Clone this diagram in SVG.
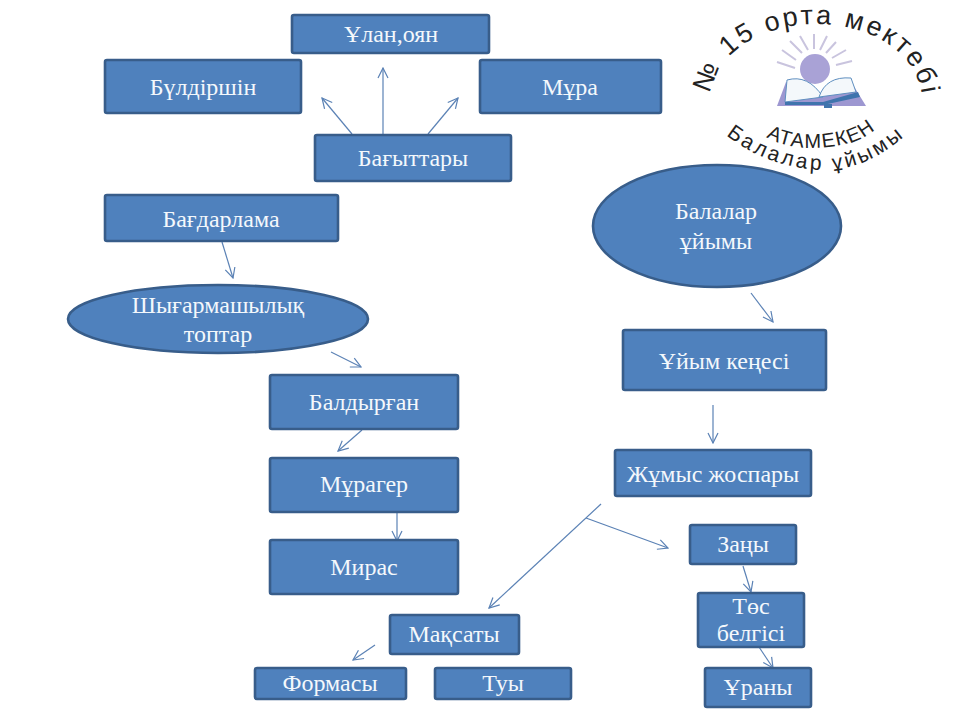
<svg xmlns="http://www.w3.org/2000/svg" width="960" height="720" viewBox="0 0 960 720">
<style>
.b{fill:#4f81bd;stroke:#385d8a;stroke-width:2.6}
.t{font-family:"Liberation Serif","Noto Sans",serif;font-size:24px;fill:#f4f8fc;text-anchor:middle}
.c{fill:none;stroke:#5b82b5;stroke-width:1.2;marker-end:url(#a)}
.l{font-family:"Liberation Sans",sans-serif;fill:#222}
</style>
<defs>
<marker id="a" viewBox="0 0 12 12" refX="11" refY="6" markerWidth="12" markerHeight="12" markerUnits="userSpaceOnUse" orient="auto"><path d="M1 1L11 6L1 11" fill="none" stroke="#5b82b5" stroke-width="1.2"/></marker>
<path id="p1" d="M711 94C716 48 770 24 815 24C865 24 916 48 922 96L924 130"/>
<path id="p2" d="M766 137C790 150 820 151 853 142C870 136 882 125 892 112"/>
<path id="p3" d="M726 135C755 158 790 169 823 170C860 170 890 152 920 122"/>
</defs>
<rect width="960" height="720" fill="#fff"/>
<g id="logo">
<text class="l" font-size="27" letter-spacing="2.7"><textPath href="#p1">№ 15 орта мектебі</textPath></text>
<text class="l" font-size="20" letter-spacing="1.2"><textPath href="#p2">АТАМЕКЕН</textPath></text>
<text class="l" font-size="21" letter-spacing="3"><textPath href="#p3">Балалар ұйымы</textPath></text>
<g fill="none" stroke="#c9c4de" stroke-width="2"><path d="M795 68L777 62M796 60L782 50M802 53L790 41M808 50L800 36M814 49L814 34M820 50L827 36M826 53L836 42M832 58L846 50M836 65L852 61"/></g>
<circle cx="815" cy="69" r="15" fill="#a9a2d6"/>
<path d="M786 82L777 106H866L850 80L820 96Z" fill="#9d97d1"/>
<path d="M787 80Q808 74 823 97L785 102Z" fill="#f4f8fb" stroke="#5f8fc0"/>
<path d="M819 97Q826 76 851 78L856 92Z" fill="#f4f8fb" stroke="#5f8fc0"/>
<path d="M785 102H823L858 92L860 97L823 105H785Z" fill="#3f74ad"/>
<rect x="824" y="104" width="8" height="4" fill="#3f74ad"/>
</g>
<g id="connectors">
<path class="c" d="M352 134L322 98"/>
<path class="c" d="M383 134V68"/>
<path class="c" d="M428 134L458 98"/>
<path class="c" d="M222 242L233 278"/>
<path class="c" d="M331 352L361 367"/>
<path class="c" d="M362 430L338 451"/>
<path class="c" d="M397 512V541"/>
<path class="c" d="M751 293L773 322"/>
<path class="c" d="M713 405V443"/>
<path class="c" d="M601 504L489 608"/>
<path class="c" d="M586 518L668 548"/>
<path class="c" d="M743 566L751 592"/>
<path class="c" d="M759 647L773 668"/>
<path class="c" d="M375 645L353 660"/>
</g>
<g id="n1"><rect class="b" x="292" y="15" width="197" height="38" rx="2"/><text class="t" x="391" y="42">Ұлан,оян</text></g>
<g id="n2"><rect class="b" x="105" y="60" width="196" height="53" rx="2"/><text class="t" x="203" y="95">Бүлдіршін</text></g>
<g id="n3"><rect class="b" x="480" y="60" width="181" height="53" rx="2"/><text class="t" x="570" y="95">Мұра</text></g>
<g id="n4"><rect class="b" x="315" y="135" width="196" height="46" rx="2"/><text class="t" x="413" y="166">Бағыттары</text></g>
<g id="n5"><rect class="b" x="105" y="195" width="233" height="46" rx="2"/><text class="t" x="221" y="227">Бағдарлама</text></g>
<g id="n6"><ellipse class="b" cx="218" cy="319" rx="150" ry="34"/><text class="t" x="218" y="313">Шығармашылық</text><text class="t" x="218" y="342">топтар</text></g>
<g id="n7"><ellipse class="b" cx="717" cy="226" rx="124" ry="61"/><text class="t" x="716" y="219">Балалар</text><text class="t" x="716" y="249">ұйымы</text></g>
<g id="n8"><rect class="b" x="623" y="330" width="203" height="60" rx="2"/><text class="t" x="724" y="369">Ұйым кеңесі</text></g>
<g id="n9"><rect class="b" x="270" y="375" width="188" height="54" rx="2"/><text class="t" x="364" y="410">Балдырған</text></g>
<g id="n10"><rect class="b" x="270" y="458" width="188" height="54" rx="2"/><text class="t" x="364" y="492">Мұрагер</text></g>
<g id="n11"><rect class="b" x="270" y="540" width="188" height="54" rx="2"/><text class="t" x="364" y="575">Мирас</text></g>
<g id="n12"><rect class="b" x="615" y="450" width="196" height="46" rx="2"/><text class="t" x="713" y="482">Жұмыс жоспары</text></g>
<g id="n13"><rect class="b" x="690" y="525" width="106" height="39" rx="2"/><text class="t" x="743" y="552">Заңы</text></g>
<g id="n14"><rect class="b" x="698" y="593" width="106" height="54" rx="2"/><text class="t" x="751" y="614">Төс</text><text class="t" x="751" y="641">белгісі</text></g>
<g id="n15"><rect class="b" x="390" y="615" width="129" height="39" rx="2"/><text class="t" x="454" y="642">Мақсаты</text></g>
<g id="n16"><rect class="b" x="255" y="668" width="151" height="31" rx="2"/><text class="t" x="330" y="691">Формасы</text></g>
<g id="n17"><rect class="b" x="435" y="668" width="136" height="31" rx="2"/><text class="t" x="503" y="691">Туы</text></g>
<g id="n18"><rect class="b" x="705" y="668" width="106" height="39" rx="2"/><text class="t" x="758" y="695">Ұраны</text></g>
</svg>
